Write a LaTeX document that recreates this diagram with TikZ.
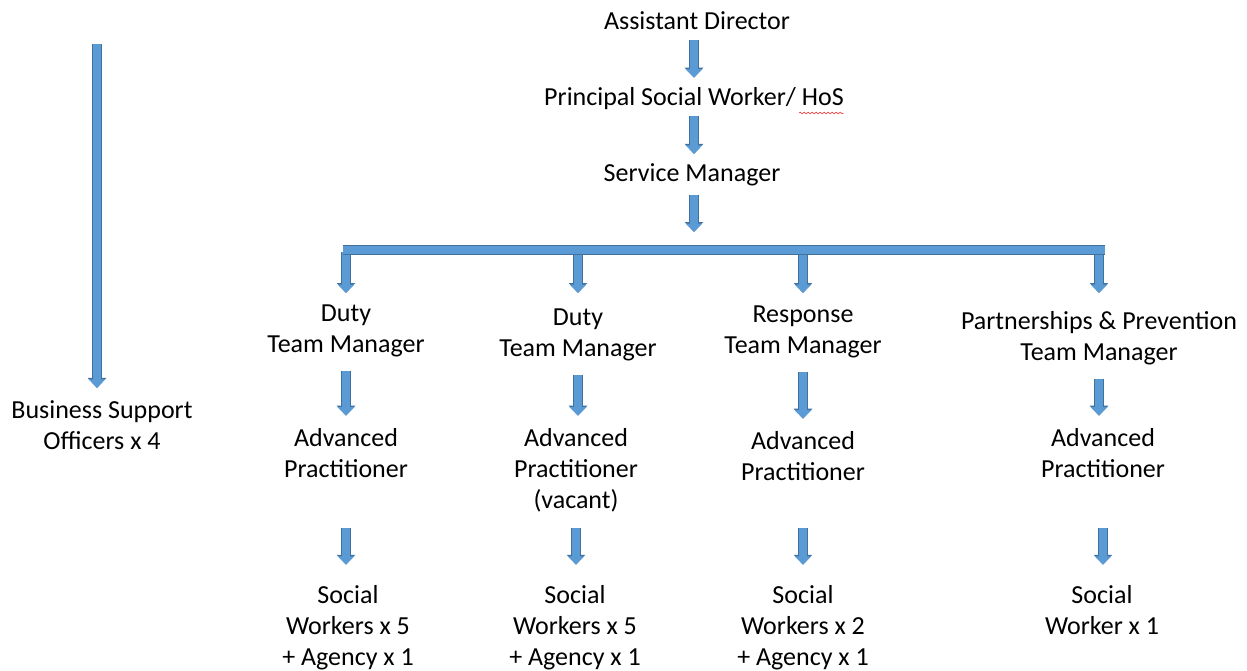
\documentclass[tikz,border=0pt]{standalone}
\usepackage{fontspec}
\setmainfont{Carlito}
\usepackage{xcolor}
\usepackage{tikz}
\usetikzlibrary{arrows.meta,decorations.pathmorphing}
\definecolor{barblue}{HTML}{5B9BD5}
\definecolor{edgeblue}{HTML}{41719C}
\newcommand{\lbfont}{\fontsize{26}{31}\selectfont}

\begin{document}
\begin{tikzpicture}[x=1pt,y=-1pt,
    lbl/.style={align=center, inner sep=0pt, anchor=base, font=\lbfont},
    blk/.style={line width=8pt, draw=barblue, -{Triangle[width=16pt,length=8.5pt]},
        preaction={draw=edgeblue, line width=9.4pt, -{Triangle[width=18pt,length=10pt]}}},
    hbar/.style={line width=8.5pt, draw=barblue,
        preaction={draw=edgeblue, line width=9.9pt}}]
            \useasboundingbox (0,0) rectangle (1247,671);

            \node[lbl] (ad) at (697,30) {Assistant Director};
            \node[lbl] (psw) at (694,106) {Principal Social Worker/ HoS};
            \node[lbl] (sm) at (692,182) {Service Manager};
            \node[lbl] (bso) at (102,449) {Business Support\\Officers x 4};

            \node[lbl] (tm1) at (346,352) {Duty\\Team Manager};
            \node[lbl] (tm2) at (578,356) {Duty\\Team Manager};
            \node[lbl] (tm3) at (803,353) {Response\\Team Manager};
            \node[lbl] (tm4) at (1099,360) {Partnerships \& Prevention\\Team Manager};

            \node[lbl] (ap1) at (346,477) {Advanced\\Practitioner};
            \node[lbl] (ap2) at (576,508) {Advanced\\Practitioner\\(vacant)};
            \node[lbl] (ap3) at (803,480) {Advanced\\Practitioner};
            \node[lbl] (ap4) at (1103,477) {Advanced\\Practitioner};

            \node[lbl] (sw1) at (348,665) {Social\\Workers x 5\\+ Agency x 1};
            \node[lbl] (sw2) at (575,665) {Social\\Workers x 5\\+ Agency x 1};
            \node[lbl] (sw3) at (803,665) {Social\\Workers x 2\\+ Agency x 1};
            \node[lbl] (sw4) at (1102,634) {Social\\Worker x 1};

            \coordinate (bstop) at (97,44);
            \coordinate (barL) at (343,250);
            \coordinate (barR) at (1105,250);
            \coordinate (dropend) at (0,293);
            \coordinate (swrow) at (0,528);

            \draw[red, decorate, decoration={snake, amplitude=0.9pt, segment length=4pt}]
                ([shift={(-45,7)}]psw.base east) -- ([shift={(0,7)}]psw.base east);

            \draw[blk, shorten <=10pt, shorten >=10pt] (ad.south -| 694,0) -- (psw.north -| 694,0);
            \draw[blk, shorten <=6pt, shorten >=10pt] (psw.south -| 694,0) -- (sm.north -| 694,0);
            \draw[blk, shorten <=8pt, shorten >=18pt] (sm.south -| 694,0) -- (barL -| 694,0);
            \draw[blk, shorten >=12pt] (bstop) -- (bstop |- bso.north);

            \foreach \c in {1,...,4} {
                \draw[blk] (tm\c.north |- 0,252) -- (tm\c.north |- dropend);
                \draw[blk, shorten <=14pt, shorten >=12pt] (tm\c.south) -- (tm\c.south |- ap\c.north);
                \draw[blk, shorten >=20pt] (ap\c.south |- swrow) -- (ap\c.south |- sw\c.north);
            }
            \draw[hbar] (barL) -- (barR);
        \end{tikzpicture}
\end{document}
